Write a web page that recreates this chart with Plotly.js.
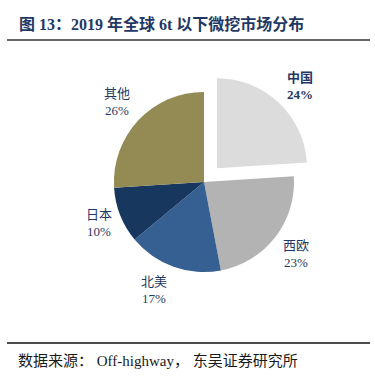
<!DOCTYPE html>
<html>
<head>
<meta charset="utf-8">
<script src="https://cdn.plot.ly/plotly-3.0.1.min.js"></script>
<style>html,body{margin:0;padding:0;background:#fff;}#chart{width:375px;height:380px;}</style>
</head>
<body>
<div id="chart"></div>
<script>
// Data
const regions = ["中国", "西欧", "北美", "日本", "其他"];
const shares = [24, 23, 17, 10, 26];
const titleText = "图 13：2019 年全球 6t 以下微挖市场分布";
const sourceText = "数据来源： Off-highway， 东吴证券研究所";

// Styles
const colors = ["#DCDCDC", "#B3B3B3", "#376092", "#17375E", "#948A54"];
const pulls = [0.21, 0, 0, 0, 0];
const labelPos = [[300, 86], [296, 254], [154, 290], [99, 223], [117, 102]];
const W = 375, H = 380;
const fontFam = "'Liberation Serif', 'Noto Sans CJK SC', serif";

const annotations = regions.map((r, i) => ({
  x: labelPos[i][0] / W, y: 1 - labelPos[i][1] / H, xref: "paper", yref: "paper",
  xanchor: "center", yanchor: "middle", showarrow: false, align: "center",
  text: i === 0 ? "<b>" + r + "<br>" + shares[i] + "%</b>" : r + "<br>" + shares[i] + "%",
  font: {family: fontFam, size: 13, color: "#1F3864"}
}));
annotations.push({
  x: 17 / W, y: 1 - 24 / H, xref: "paper", yref: "paper", xanchor: "left", yanchor: "middle",
  showarrow: false, text: "<b>" + titleText + "</b>",
  font: {family: fontFam, size: 16, color: "#1F3864"}
});
annotations.push({
  x: 16 / W, y: 1 - 361 / H, xref: "paper", yref: "paper", xanchor: "left", yanchor: "middle",
  showarrow: false, text: sourceText,
  font: {family: fontFam, size: 15, color: "#1a1a1a"}
});

const cx = 204, cy = 182, half = 109;
const trace = {
  type: "pie", labels: regions, values: shares, sort: false, direction: "clockwise", rotation: 0,
  pull: pulls, marker: {colors: colors, line: {width: 0}}, textinfo: "none", hoverinfo: "label+percent",
  domain: {x: [(cx - half) / W, (cx + half) / W], y: [1 - (cy + half) / H, 1 - (cy - half) / H]},
  showlegend: false
};

const layout = {
  width: W, height: H, margin: {l: 0, r: 0, t: 0, b: 0},
  paper_bgcolor: "#fff", showlegend: false, annotations: annotations,
  shapes: [
    {type: "line", xref: "paper", yref: "paper", x0: 7 / W, x1: 370 / W, y0: 1 - 40 / H, y1: 1 - 40 / H, line: {color: "#333", width: 1.5}},
    {type: "line", xref: "paper", yref: "paper", x0: 7 / W, x1: 370 / W, y0: 1 - 343 / H, y1: 1 - 343 / H, line: {color: "#111", width: 1.5}}
  ]
};
Plotly.newPlot("chart", [trace], layout, {staticPlot: true, displayModeBar: false});
</script>
</body>
</html>
